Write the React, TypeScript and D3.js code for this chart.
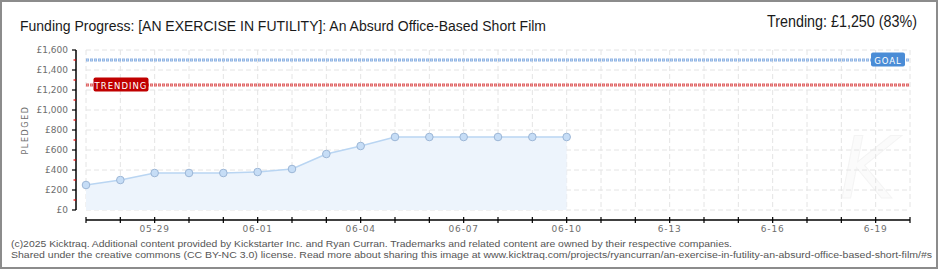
import React from "react";
import * as d3 from "d3";

const dates = [
  "2025-05-27", "2025-05-28", "2025-05-29", "2025-05-30", "2025-05-31",
  "2025-06-01", "2025-06-02", "2025-06-03", "2025-06-04", "2025-06-05",
  "2025-06-06", "2025-06-07", "2025-06-08", "2025-06-09", "2025-06-10",
];
const pledged = [250, 300, 370, 370, 370, 380, 410, 560, 640, 730, 730, 730, 730, 730, 730];
const goal = 1500;
const trending = 1250;
const yTicks = [0, 200, 400, 600, 800, 1000, 1200, 1400, 1600];
const yMinor = [100, 300, 500, 700, 900, 1100, 1300, 1500];
const xLabelDates = ["2025-05-29", "2025-06-01", "2025-06-04", "2025-06-07", "2025-06-10", "2025-06-13", "2025-06-16", "2025-06-19"];
const xLabels = ["05-29", "06-01", "06-04", "06-07", "06-10", "6-13", "6-16", "6-19"];
const domainStart = "2025-05-27";
const domainEnd = "2025-06-20";

const title = "Funding Progress: [AN EXERCISE IN FUTILITY]: An Absurd Office-Based Short Film";
const trendText = "Trending:  £1,250 (83%)";
const footer1 = "(c)2025 Kicktraq. Additional content provided by Kickstarter Inc. and Ryan Curran. Trademarks and related content are owned by their respective companies.";
const footer2 = "Shared under the creative commons (CC BY-NC 3.0) license. Read more about sharing this image at www.kicktraq.com/projects/ryancurran/an-exercise-in-futility-an-absurd-office-based-short-film/#s";

const pd = (s: string) => new Date(s + "T00:00:00Z");

export default function App() {
  const x = d3.scaleUtc().domain([pd(domainStart), pd(domainEnd)]).range([86, 910]);
  const y = d3.scaleLinear().domain([0, 1600]).range([210, 50]);
  const days = d3.utcDay.range(pd(domainStart), d3.utcDay.offset(pd(domainEnd), 1));
  const pts = dates.map((d, i) => ({ d: pd(d), v: pledged[i] }));
  const area = d3.area<any>().x((p) => x(p.d)).y0(y(0)).y1((p) => y(p.v))(pts) || "";
  const line = d3.line<any>().x((p) => x(p.d)).y((p) => y(p.v))(pts) || "";
  const pixFont = "DejaVu Sans, Verdana, sans-serif";
  const footFont = "Liberation Sans, Arial, sans-serif";
  const titleFont = "Liberation Sans Narrow, Liberation Sans, Arial, sans-serif";

  return (
    <div style={{ position: "absolute", left: 0, top: 0 }}>
      <svg width={940} height={270} style={{ display: "block", background: "#fff" }}>
        <rect x={1} y={1} width={936} height={267} fill="#fff" stroke="#8c8c8c" strokeWidth={2} />

        <text x={20} y={30.5} fontFamily={titleFont} fontSize={15.5} fill="#1a1a1a" textLength={526} lengthAdjust="spacingAndGlyphs">{title}</text>
        <text x={767} y={27} fontFamily={titleFont} fontSize={16.5} fill="#1a1a1a" textLength={150} lengthAdjust="spacingAndGlyphs">{trendText}</text>

        {/* watermark */}
        <text x={868} y={198} textAnchor="middle" fontFamily="DejaVu Sans" fontStyle="italic" fontSize={86} fill="#fbfbfb" stroke="#f4f4f4" strokeWidth={1}>K</text>

        {/* grid */}
        {yTicks.map((t) => (
          <line key={"hg" + t} x1={86} x2={910} y1={y(t)} y2={y(t)} stroke="#e4e4e4" strokeDasharray="5,3" />
        ))}
        {days.map((d, i) => (
          <line key={"vg" + i} x1={x(d)} x2={x(d)} y1={y(1600)} y2={y(0)} stroke="#e4e4e4" strokeDasharray="5,3" />
        ))}

        {/* area */}
        <path d={area} fill="#edf4fc" />
        <path d={line} fill="none" stroke="#b9d5f2" strokeWidth={1.5} />

        {/* goal & trending lines */}
        <line x1={86} x2={910} y1={y(goal)} y2={y(goal)} stroke="#8fb4e4" strokeWidth={3} strokeDasharray="3,1" />
        <line x1={86} x2={910} y1={y(goal)} y2={y(goal)} stroke="#d8e6f7" strokeWidth={1} strokeDasharray="1,3" strokeDashoffset={-1} />
        <line x1={86} x2={910} y1={y(trending)} y2={y(trending)} stroke="#e06666" strokeWidth={3} strokeDasharray="3,1" />
        <line x1={86} x2={910} y1={y(trending)} y2={y(trending)} stroke="#f2bcbc" strokeWidth={1} strokeDasharray="1,3" strokeDashoffset={-1} />

        {/* points */}
        {pts.map((p, i) => (
          <circle key={"pt" + i} cx={x(p.d)} cy={y(p.v)} r={3.8} fill="#c6ddf6" stroke="#9cb6d6" strokeWidth={1} />
        ))}

        {/* labels on lines */}
        <rect x={871} y={y(goal) - 7.5} width={34} height={14} rx={2} fill="#4a8cd6" />
        <text x={888} y={y(goal) + 3.5} textAnchor="middle" fontFamily={pixFont} fontSize={8.5} fill="#fff" letterSpacing={1}>GOAL</text>
        <rect x={93.5} y={y(trending) - 7.5} width={55} height={14} rx={2} fill="#c00000" />
        <text x={121} y={y(trending) + 3.5} textAnchor="middle" fontFamily={pixFont} fontSize={8.5} fill="#fff" letterSpacing={1}>TRENDING</text>

        {/* y axis */}
        <line x1={76} x2={76} y1={y(1600)} y2={y(0)} stroke="#000" strokeWidth={1.5} />
        {yTicks.map((t) => (
          <g key={"yt" + t}>
            <line x1={72} x2={76} y1={y(t)} y2={y(t)} stroke="#000" strokeWidth={1.2} />
            <text x={68} y={y(t) + 3.3} textAnchor="end" fontFamily={pixFont} fontSize={9} fill="#6e6e6e">
              {"£" + d3.format(",")(t)}
            </text>
          </g>
        ))}
        {yMinor.map((t) => (
          <line key={"ym" + t} x1={73.5} x2={76} y1={y(t)} y2={y(t)} stroke="#e00000" strokeWidth={1.2} />
        ))}
        <text transform="translate(28,130) rotate(-90)" textAnchor="middle" fontFamily={pixFont} fontSize={8} fill="#6e6e6e" letterSpacing={1.6}>PLEDGED</text>

        {/* x axis */}
        <line x1={86} x2={910} y1={220} y2={220} stroke="#000" strokeWidth={1.5} />
        {days.map((d, i) => (
          <line key={"xt" + i} x1={x(d)} x2={x(d)} y1={217} y2={223} stroke="#000" strokeWidth={1.2} />
        ))}
        {xLabelDates.map((d, i) => (
          <text key={"xl" + i} x={x(pd(d))} y={232} textAnchor="middle" fontFamily={pixFont} fontSize={9} fill="#6e6e6e" letterSpacing={0.8}>
            {xLabels[i]}
          </text>
        ))}

        {/* footer */}
        <text x={11} y={247} fontFamily={footFont} fontSize={9.8} fill="#555" textLength={721} lengthAdjust="spacingAndGlyphs">{footer1}</text>
        <text x={11} y={258} fontFamily={footFont} fontSize={9.2} fill="#555" textLength={921} lengthAdjust="spacingAndGlyphs">{footer2}</text>
      </svg>
    </div>
  );
}
